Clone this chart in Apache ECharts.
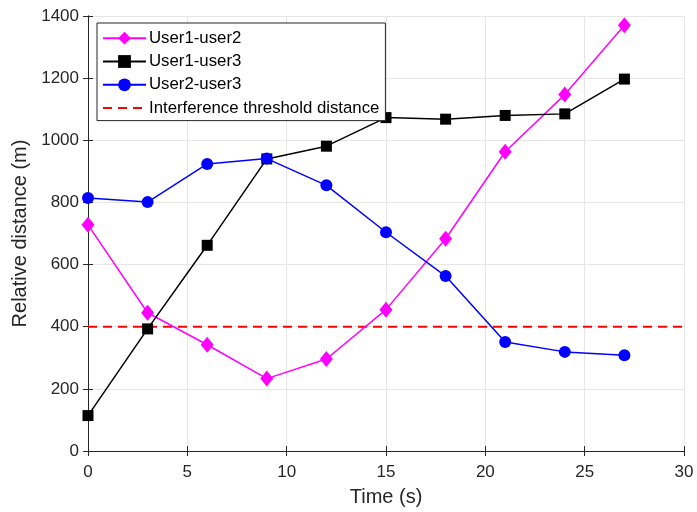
<!DOCTYPE html>
<html>
<head>
<meta charset="utf-8">
<script src="https://cdn.jsdelivr.net/npm/echarts@6/dist/echarts.min.js"></script>
<style>html,body{margin:0;padding:0;background:#fff;}#c{width:697px;height:512px;}</style>
</head>
<body>
<div id="c"></div>
<script>
var times = [0, 3, 6, 9, 12, 15, 18, 21, 24, 27];
var user1user2 = [728, 445, 342, 233, 296, 455, 683, 963, 1147, 1370];
var user1user3 = [114, 393, 662, 940, 981, 1073, 1068, 1080, 1085, 1197];
var user2user3 = [814, 801, 924, 941, 855, 704, 563, 351, 319, 308];
var threshold = 400;
var thresholdX = [0, 30];
var seriesNames = ['User1-user2', 'User1-user3', 'User2-user3', 'Interference threshold distance'];

function pairs(xs, ys) { return xs.map(function (x, i) { return [x, ys[i]]; }); }

var chart = echarts.init(document.getElementById('c'), null, {renderer: 'canvas'});
var font = 'Liberation Sans, Arial, Helvetica, sans-serif';
var axisCol = '#262626';
var gridCol = '#e6e6e6';
var commonAxis = {
  axisLine: {show: true, lineStyle: {color: axisCol, width: 1}},
  axisTick: {show: true, inside: true, length: 5, lineStyle: {color: axisCol}},
  splitLine: {show: false}
};
chart.setOption({
  animation: false,
  backgroundColor: '#fff',
  textStyle: {fontFamily: font},
  grid: {left: 88, right: 13, top: 16, bottom: 61, containLabel: false},
  legend: {
    orient: 'vertical',
    left: 97, top: 23,
    padding: [6.7, 6, 4, 5],
    itemWidth: 43, itemHeight: 16, itemGap: 6.3,
    backgroundColor: '#fff',
    borderColor: axisCol, borderWidth: 1,
    borderRadius: 0,
    textStyle: {fontSize: 16.8, lineHeight: 16, color: '#000', fontFamily: font, padding: [0, 0, 0, -2]},
    data: [
      {name: seriesNames[0]},
      {name: seriesNames[1]},
      {name: seriesNames[2]},
      {name: seriesNames[3], itemStyle: {opacity: 0}}
    ]
  },
  xAxis: [
    Object.assign({}, commonAxis, {
      type: 'value', min: 0, max: 30, interval: 5, position: 'bottom',
      name: 'Time (s)', nameLocation: 'middle', nameGap: 36,
      nameTextStyle: {fontSize: 20, color: axisCol, fontFamily: font},
      axisLabel: {fontSize: 17, color: axisCol, margin: 13, fontFamily: font},
      splitLine: {show: true, lineStyle: {color: gridCol, width: 1}}
    }),
    Object.assign({}, commonAxis, {
      type: 'value', min: 0, max: 30, interval: 5, position: 'top',
      axisLabel: {show: false}
    })
  ],
  yAxis: [
    Object.assign({}, commonAxis, {
      type: 'value', min: 0, max: 1400, interval: 200, position: 'left',
      name: 'Relative distance (m)', nameLocation: 'middle', nameGap: 55,
      nameTextStyle: {fontSize: 20, color: axisCol, fontFamily: font},
      axisLabel: {fontSize: 17, color: axisCol, margin: 9, fontFamily: font,
        formatter: function (v) { return String(v); }},
      splitLine: {show: true, lineStyle: {color: gridCol, width: 1}}
    }),
    Object.assign({}, commonAxis, {
      type: 'value', min: 0, max: 1400, interval: 200, position: 'right',
      axisLabel: {show: false}
    })
  ],
  series: [
    {
      name: seriesNames[0], type: 'line', data: pairs(times, user1user2),
      symbol: 'diamond', symbolSize: [13, 16],
      lineStyle: {color: '#ff00ff', width: 1.5},
      itemStyle: {color: '#ff00ff'}, z: 3
    },
    {
      name: seriesNames[1], type: 'line', data: pairs(times, user1user3),
      symbol: 'rect', symbolSize: 11,
      lineStyle: {color: '#000000', width: 1.5},
      itemStyle: {color: '#000000'}, z: 3
    },
    {
      name: seriesNames[2], type: 'line', data: pairs(times, user2user3),
      symbol: 'circle', symbolSize: 12,
      lineStyle: {color: '#0000ff', width: 1.5},
      itemStyle: {color: '#0000ff'}, z: 3
    },
    {
      name: seriesNames[3], type: 'line', data: pairs(thresholdX, [threshold, threshold]),
      symbol: 'none', showSymbol: false,
      lineStyle: {color: '#ff0000', width: 2, type: [9, 6]},
      itemStyle: {color: '#ff0000'}, z: 2
    }
  ]
});
</script>
</body>
</html>
